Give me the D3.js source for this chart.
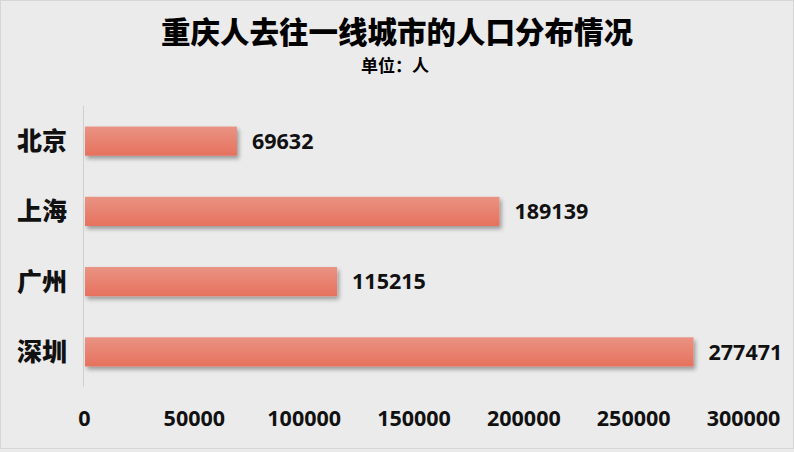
<!DOCTYPE html>
<html>
<head>
<meta charset="utf-8">
<script src="https://cdn.jsdelivr.net/npm/d3@7"></script>
<style>
  body { margin: 0; background: #ebebeb; }
  svg { display: block; }
</style>
</head>
<body>
<div id="chart"></div>
<script>
// data
var cities = ["北京", "上海", "广州", "深圳"];
var people = [69632, 189139, 115215, 277471];
var xTicks = [0, 50000, 100000, 150000, 200000, 250000, 300000];

var width = 794, height = 452;
var margin = {left: 84, right: 51, top: 106, bottom: 65};

var svg = d3.select("#chart").append("svg")
  .attr("width", width).attr("height", height);

var defs = svg.append("defs");
var grad = defs.append("linearGradient").attr("id", "barGrad")
  .attr("x1", 0).attr("y1", 0).attr("x2", 0).attr("y2", 1);
grad.append("stop").attr("offset", "0%").attr("stop-color", "#ea9383");
grad.append("stop").attr("offset", "100%").attr("stop-color", "#e6715d");

var shadow = defs.append("filter").attr("id", "shadow")
  .attr("x", "-5%").attr("y", "-30%").attr("width", "115%").attr("height", "180%");
shadow.append("feDropShadow").attr("dx", 2).attr("dy", 3).attr("stdDeviation", 2)
  .attr("flood-color", "#000").attr("flood-opacity", 0.35);

// background + frame
svg.append("rect").attr("x", 0.5).attr("y", 0.5)
  .attr("width", width - 1).attr("height", height - 4)
  .attr("fill", "#ebebeb").attr("stroke", "#d6d6d6");

var x = d3.scaleLinear().domain([0, 300000]).range([margin.left, width - margin.right]);
var y = d3.scaleBand().domain(cities).range([margin.top, height - margin.bottom])
  .paddingInner(0.585).paddingOuter(0.2925);

// title
svg.append("text").attr("x", 397).attr("y", 43)
  .attr("text-anchor", "middle")
  .style("font-family", "'Noto Sans CJK SC', sans-serif")
  .style("font-weight", "900").style("font-size", "29.5px")
  .text("重庆人去往一线城市的人口分布情况");
svg.append("text").attr("x", 395).attr("y", 71.5)
  .attr("text-anchor", "middle")
  .style("font-family", "'Noto Sans CJK SC', sans-serif")
  .style("font-weight", "bold").style("font-size", "17px")
  .text("单位：人");

// vertical axis line
svg.append("line")
  .attr("x1", margin.left - 0.5).attr("x2", margin.left - 0.5)
  .attr("y1", margin.top).attr("y2", height - margin.bottom)
  .attr("stroke", "#d0d0d0").attr("stroke-width", 1);

// bars
svg.append("g").selectAll("rect")
  .data(cities)
  .join("rect")
    .attr("x", margin.left + 1)
    .attr("y", d => y(d))
    .attr("width", (d, i) => x(people[i]) - margin.left - 1)
    .attr("height", y.bandwidth())
    .attr("fill", "url(#barGrad)")
    .attr("filter", "url(#shadow)");

// value labels
svg.append("g").selectAll("text")
  .data(cities)
  .join("text")
    .attr("x", (d, i) => x(people[i]) + 15)
    .attr("y", d => y(d) + y.bandwidth() / 2)
    .attr("dy", "0.36em")
    .style("font-family", "'Open Sans', sans-serif")
    .style("font-weight", "bold").style("font-size", "21.5px")
    .attr("fill", "#111")
    .text((d, i) => people[i]);

// category labels
svg.append("g").selectAll("text")
  .data(cities)
  .join("text")
    .attr("x", 42)
    .attr("y", d => y(d) + y.bandwidth() / 2)
    .attr("dy", "0.36em")
    .attr("text-anchor", "middle")
    .style("font-family", "'Noto Sans CJK SC', sans-serif")
    .style("font-weight", "900").style("font-size", "25px")
    .attr("fill", "#111")
    .text(d => d);

// x axis tick labels
var xAxis = d3.axisBottom(x).tickValues(xTicks).tickSize(0).tickPadding(0).tickFormat(d3.format("d"));
var gx = svg.append("g").attr("transform", "translate(0," + 411 + ")").call(xAxis);
gx.select(".domain").remove();
gx.selectAll("text")
  .style("font-family", "'Open Sans', sans-serif")
  .style("font-weight", "bold").style("font-size", "21.5px")
  .attr("fill", "#111");
</script>
</body>
</html>
